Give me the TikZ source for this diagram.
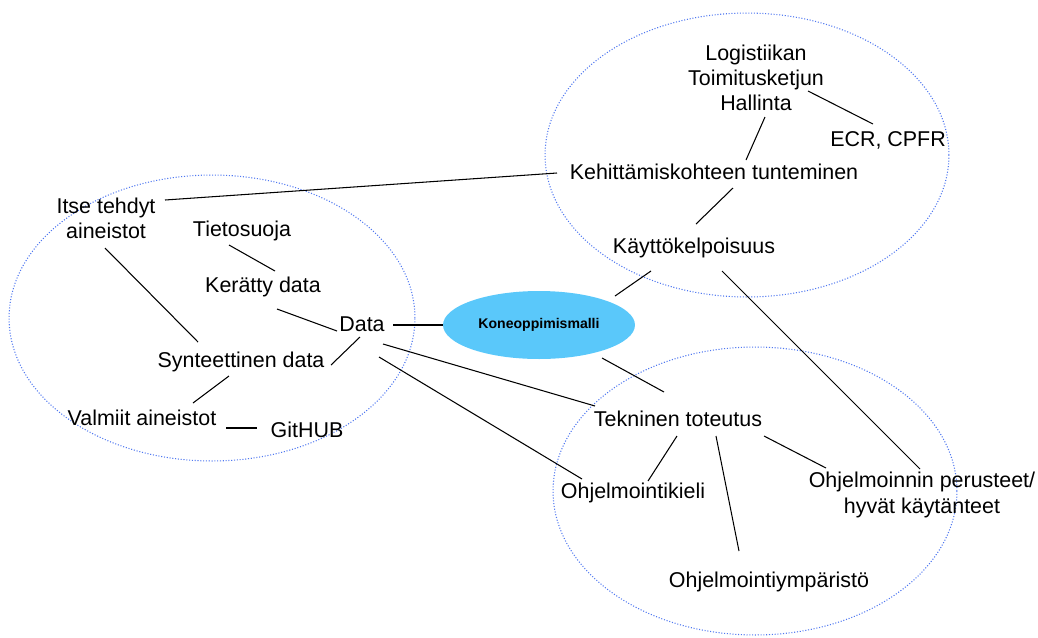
\documentclass[tikz,border=0pt]{standalone}
\usepackage{fontspec}
\setmainfont{Liberation Sans}
\usetikzlibrary{shapes.geometric}
\definecolor{zoneblue}{RGB}{80,120,240}
\definecolor{modelblue}{RGB}{90,200,250}

\begin{document}
\begin{tikzpicture}[x=0.02cm,y=-0.02cm,
    zone/.style={draw=zoneblue,densely dotted,line width=0.6pt},
    term/.style={inner sep=0pt,align=center,font=\fontsize{12.2}{14.3}\selectfont},
    model/.style={ellipse,fill=modelblue,minimum width=3.84cm,minimum height=1.36cm,
        inner sep=0pt,font=\fontsize{8}{9}\selectfont\bfseries},
    link/.style={line width=0.6pt}]
    \useasboundingbox (0,0) rectangle (1038,637);

    % the three areas
    \draw [zone] (212,318) ellipse [x radius=4.06cm, y radius=2.86cm];
    \draw [zone] (747,155) ellipse [x radius=4.04cm, y radius=2.84cm];
    \draw [zone] (755,491) ellipse [x radius=4.04cm, y radius=2.88cm];

    \node [model] (kone) at (539,325) {Koneoppimismalli};

    % data side
    \node [term] (itse) at (106,218) {Itse tehdyt\\aineistot};
    \node [term] (tieto) at (242,231) {Tietosuoja};
    \node [term] (keratty) at (263,287) {Kerätty data};
    \node [term] (data) at (362,324) {Data};
    \node [term] (synt) at (241,362) {Synteettinen data};
    \node [term] (valmiit) at (142,418) {Valmiit aineistot};
    \node [term] (github) at (307,430) {GitHUB};

    % domain side
    \node [term] (logi) at (756,78) {Logistiikan\\Toimitusketjun\\Hallinta};
    \node [term] (ecr) at (888,140) {ECR, CPFR};
    \node [term] (kehit) at (714,172) {Kehittämiskohteen tunteminen};
    \node [term] (kayt) at (694,248) {Käyttökelpoisuus};

    % technical side
    \node [term] (tekn) at (678,419) {Tekninen toteutus};
    \node [term] (kieli) at (633,493) {Ohjelmointikieli};
    \node [term] (perus) at (922,495) {Ohjelmoinnin perusteet/\\hyvät käytänteet};
    \node [term] (ymp) at (769,582) {Ohjelmointiympäristö};

    \draw [link] ([shift={(31,1)}]data.center) -- (kone.west);
    \foreach \a/\da/\b/\db in {
        itse/{59,-18}/kehit/{-157,1},
        itse/{-1,30}/synt/{-43,-20},
        tieto/{-13,14}/keratty/{12,-16},
        keratty/{14,22}/data/{-25,7},
        synt/{90,3}/data/{-2,13},
        synt/{-12,14}/valmiit/{51,-15},
        valmiit/{84,10}/github/{-50,-2},
        data/{21,20}/tekn/{-83,-13},
        data/{17,33}/kieli/{-51,-14},
        kone/{63,33}/tekn/{-14,-27},
        kone/{76,-29}/kayt/{-43,23},
        kayt/{28,23}/perus/{-2,-26},
        kehit/{19,16}/kayt/{2,-24},
        logi/{9,39}/kehit/{32,-12},
        logi/{52,13}/ecr/{-15,-16},
        tekn/{-1,17}/kieli/{15,-12},
        tekn/{38,17}/ymp/{-30,-31},
        tekn/{86,17}/perus/{-96,-27}} {
        \draw [link] ([shift={(\da)}]\a.center) -- ([shift={(\db)}]\b.center);
    }
\end{tikzpicture}
\end{document}
